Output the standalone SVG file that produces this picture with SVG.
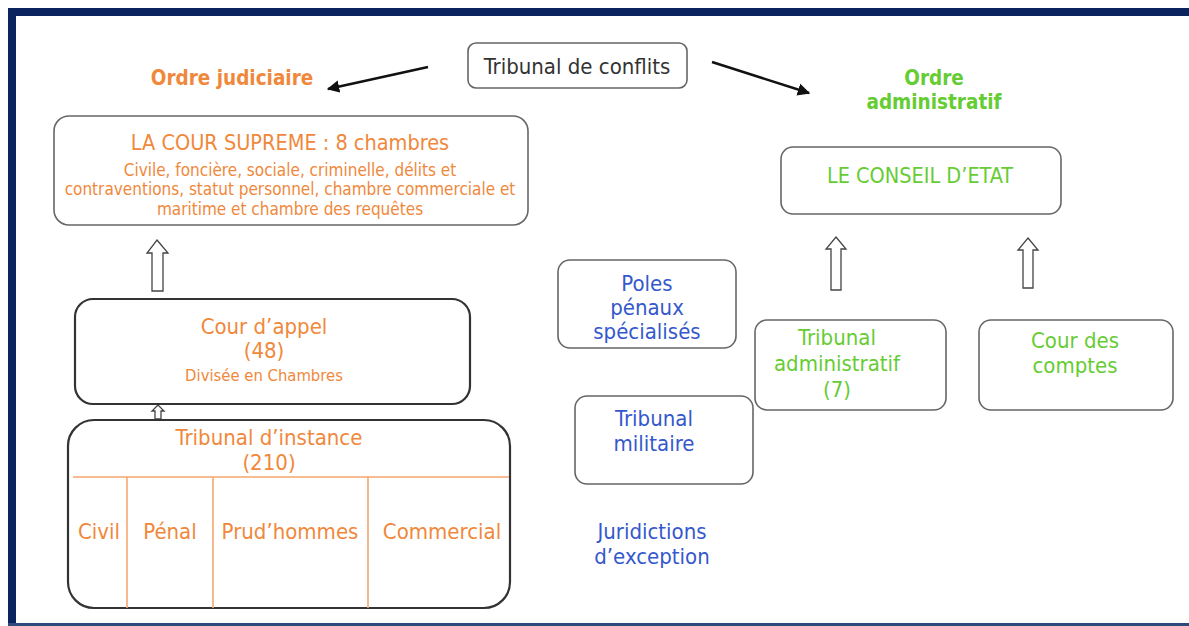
<svg xmlns="http://www.w3.org/2000/svg" width="1189" height="626" viewBox="0 0 1189 626">
<defs>
<marker id="ah" viewBox="0 0 10 10" refX="9" refY="5" markerWidth="5" markerHeight="5" orient="auto-start-reverse" markerUnits="strokeWidth">
<path d="M0,0 L10,5 L0,10 z" fill="#111"/>
</marker>
<style>
text{font-family:"DejaVu Sans Condensed","DejaVu Sans",sans-serif;text-anchor:middle}
.or{fill:#F0883C}
.gr{fill:#66CC33}
.bl{fill:#3558CC}
.box{fill:#fff;stroke:#666;stroke-width:1.6}
.dbox{fill:#fff;stroke:#333;stroke-width:2.2}
.hol{fill:#fff;stroke:#444;stroke-width:1.3}
.conn{stroke:#111;stroke-width:2.5;fill:none}
.ol{stroke:#F5A66E;stroke-width:1.6}
</style>
</defs>
<rect x="0" y="0" width="1189" height="626" fill="#fff"/>
<rect x="8" y="8" width="1181" height="8" fill="#0B2460"/>
<rect x="8" y="8" width="8" height="618" fill="#0B2460"/>
<rect x="8" y="623" width="1181" height="3" fill="#2D4A7A"/>

<g id="connectors">
<line class="conn" x1="428" y1="67" x2="328" y2="89" marker-end="url(#ah)"/>
<line class="conn" x1="712" y1="62" x2="809" y2="93" marker-end="url(#ah)"/>
<path class="hol" d="M157,240 L168,253 L163,253 L163,291 L152,291 L152,253 L147,253 Z"/>
<path class="hol" d="M158,405 L164,411 L161,411 L161,419 L155,419 L155,411 L152,411 Z"/>
<path class="hol" d="M836,237 L846,249 L841,249 L841,290 L831,290 L831,249 L826,249 Z"/>
<path class="hol" d="M1028,238 L1038,250 L1033,250 L1033,288 L1023,288 L1023,250 L1018,250 Z"/>
</g>

<g id="tribunal-conflits">
<rect class="box" x="468" y="43" width="219" height="45" rx="8"/>
<text x="577" y="74" font-size="22" fill="#333">Tribunal de conflits</text>
</g>

<g id="ordre-judiciaire">
<text class="or" x="232" y="85" font-size="20.5" font-weight="bold">Ordre judiciaire</text>
</g>

<g id="ordre-administratif">
<text class="gr" x="934" y="85" font-size="20.5" font-weight="bold">Ordre</text>
<text class="gr" x="934" y="109" font-size="20.5" font-weight="bold">administratif</text>
</g>

<g id="cour-supreme">
<rect class="box" x="54" y="116" width="474" height="109" rx="15"/>
<text class="or" x="290" y="150" font-size="21.5">LA COUR SUPREME : 8 chambres</text>
<text class="or" x="290" y="176" font-size="17">Civile, foncière, sociale, criminelle, délits et</text>
<text class="or" x="290" y="195" font-size="17">contraventions, statut personnel, chambre commerciale et</text>
<text class="or" x="290" y="215" font-size="17">maritime et chambre des requêtes</text>
</g>

<g id="cour-appel">
<rect class="dbox" x="75" y="299" width="395" height="105" rx="18"/>
<text class="or" x="264" y="334" font-size="22">Cour d’appel</text>
<text class="or" x="264" y="358" font-size="22">(48)</text>
<text class="or" x="264" y="381" font-size="16.5">Divisée en Chambres</text>
</g>

<g id="tribunal-instance">
<rect class="dbox" x="68" y="420" width="442" height="188" rx="26"/>
<line class="ol" x1="73" y1="477" x2="509" y2="477"/>
<line class="ol" x1="127" y1="477" x2="127" y2="608"/>
<line class="ol" x1="213" y1="477" x2="213" y2="608"/>
<line class="ol" x1="368" y1="477" x2="368" y2="608"/>
<text class="or" x="269" y="445" font-size="22">Tribunal d’instance</text>
<text class="or" x="269" y="470" font-size="22">(210)</text>
<text class="or" x="99" y="539" font-size="22">Civil</text>
<text class="or" x="170" y="539" font-size="22">Pénal</text>
<text class="or" x="290" y="539" font-size="22">Prud’hommes</text>
<text class="or" x="442" y="539" font-size="22">Commercial</text>
</g>

<g id="poles-penaux">
<rect class="box" x="558" y="260" width="178" height="88" rx="12"/>
<text class="bl" x="647" y="291" font-size="22">Poles</text>
<text class="bl" x="647" y="315" font-size="22">pénaux</text>
<text class="bl" x="647" y="339" font-size="22">spécialisés</text>
</g>

<g id="tribunal-militaire">
<rect class="box" x="575" y="396" width="178" height="88" rx="12"/>
<text class="bl" x="654" y="426" font-size="22">Tribunal</text>
<text class="bl" x="654" y="451" font-size="22">militaire</text>
</g>

<g id="juridictions-exception">
<text class="bl" x="652" y="539" font-size="22">Juridictions</text>
<text class="bl" x="652" y="564" font-size="22">d’exception</text>
</g>

<g id="conseil-etat">
<rect class="box" x="781" y="147" width="280" height="67" rx="12"/>
<text class="gr" x="920" y="183" font-size="21.5">LE CONSEIL D’ETAT</text>
</g>

<g id="tribunal-administratif">
<rect class="box" x="755" y="320" width="191" height="90" rx="12"/>
<text class="gr" x="837" y="345" font-size="22">Tribunal</text>
<text class="gr" x="837" y="371" font-size="22">administratif</text>
<text class="gr" x="837" y="397" font-size="22">(7)</text>
</g>

<g id="cour-comptes">
<rect class="box" x="979" y="320" width="194" height="90" rx="12"/>
<text class="gr" x="1075" y="348" font-size="22">Cour des</text>
<text class="gr" x="1075" y="373" font-size="22">comptes</text>
</g>
</svg>
